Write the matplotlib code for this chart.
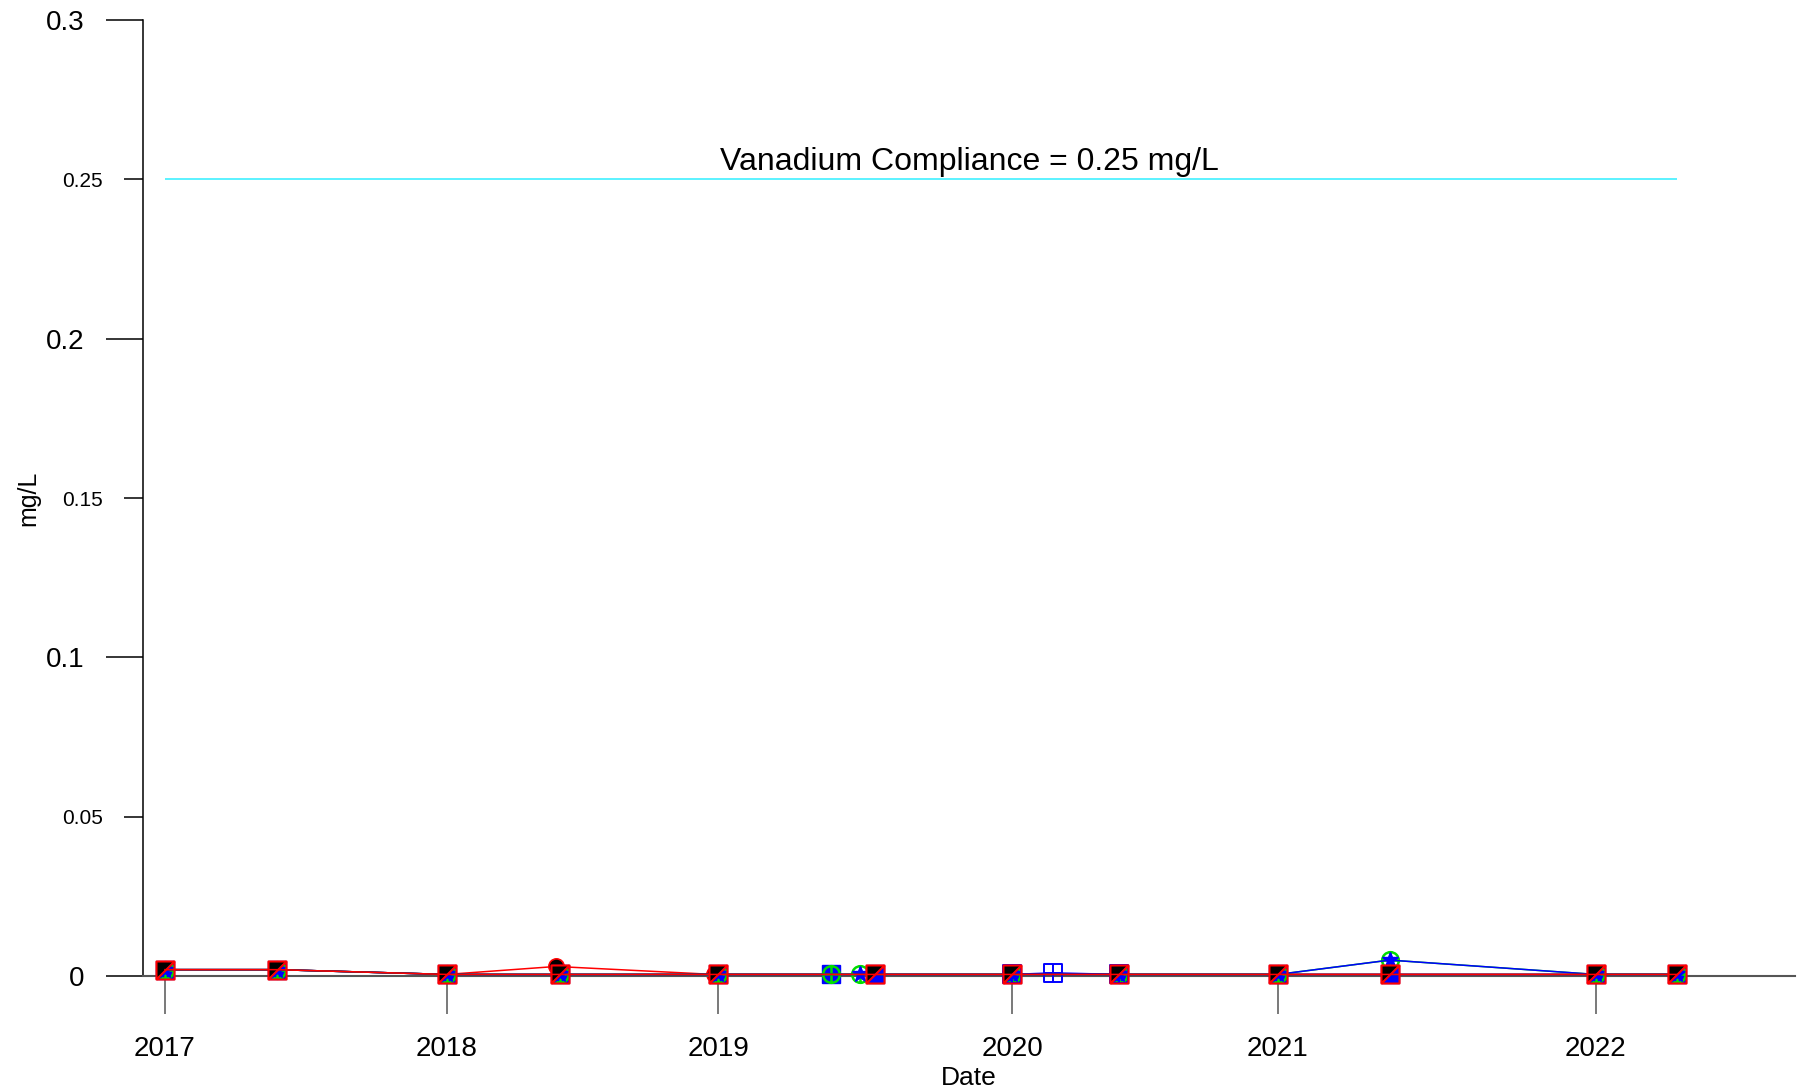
"""
Vanadium concentrations vs. compliance level, several monitoring series.
"""

import pandas as pd
import matplotlib
matplotlib.use("Agg")
import matplotlib.pyplot as plt
from matplotlib.path import Path
from matplotlib.ticker import FixedLocator, FixedFormatter
import matplotlib.dates as mdates

plt.rcParams["font.family"] = ["Liberation Sans", "DejaVu Sans"]

# -------------------- Data --------------------
COMPLIANCE = 0.25  # mg/L

a_dates = ["2017-01-11", "2017-06-09", "2018-01-19", "2018-06-18", "2019-01-14",
           "2019-06-12", "2019-08-10", "2020-02-07", "2020-06-28", "2021-01-24",
           "2021-06-21", "2022-03-21", "2022-07-06"]
a_vals = [0.002, 0.002, 0.0005, 0.0005, 0.0005, 0.0005, 0.0005, 0.0005, 0.0005,
          0.0005, 0.0005, 0.0005, 0.0005]

b_dates = ["2017-01-11", "2017-06-09", "2018-01-19", "2018-06-18", "2019-01-14",
           "2019-06-12", "2019-07-20", "2020-02-07", "2020-06-28", "2021-01-24",
           "2021-06-21", "2022-03-21", "2022-07-06"]
b_vals = [0.002, 0.002, 0.0005, 0.0005, 0.0005, 0.0005, 0.0005, 0.0005, 0.0005,
          0.0005, 0.005, 0.0005, 0.0005]

c_dates = ["2017-01-11", "2017-06-09", "2018-01-19", "2018-06-18", "2019-01-14",
           "2019-07-20", "2019-08-10", "2020-02-07", "2020-06-28", "2021-01-24",
           "2021-06-21", "2022-03-21", "2022-07-06"]
c_vals = [0.002, 0.002, 0.0005, 0.0005, 0.0005, 0.0005, 0.0005, 0.0005, 0.0005,
          0.0005, 0.005, 0.0005, 0.0005]

d_dates = ["2020-02-07", "2020-04-01", "2020-06-28"]
d_vals = [0.0005, 0.001, 0.0005]

e_dates = ["2017-01-11", "2017-06-09", "2018-01-19", "2018-06-18", "2019-01-14",
           "2019-08-10", "2020-02-07", "2020-06-28", "2021-01-24", "2021-06-21",
           "2022-03-21", "2022-07-06"]
e_vals = [0.002, 0.002, 0.0005, 0.0005, 0.0005, 0.0005, 0.0005, 0.0005, 0.0005,
          0.0005, 0.0005, 0.0005]

f_dates = ["2017-01-11", "2017-06-09", "2018-01-19", "2018-06-13", "2019-01-08",
           "2019-08-10", "2020-02-07", "2020-06-28", "2021-01-24", "2021-06-21",
           "2022-03-21", "2022-07-06"]
f_vals = [0.002, 0.002, 0.0005, 0.003, 0.0005, 0.0005, 0.0005, 0.0005, 0.0005,
          0.0005, 0.0005, 0.0005]

g_dates = e_dates
g_vals = [0.002, 0.002, 0.0005, 0.0005, 0.0005, 0.0005, 0.0005, 0.0005, 0.0005,
          0.0005, 0.0005, 0.0005]

tick_dates = ["2017-01-11", "2018-01-19", "2019-01-14", "2020-02-07",
              "2021-01-24", "2022-03-21"]
tick_labels = ["2017", "2018", "2019", "2020", "2021", "2022"]

y_major = [0, 0.1, 0.2, 0.3]
y_major_labels = ["0", "0.1", "0.2", "0.3"]
y_minor = [0.05, 0.15, 0.25]
y_minor_labels = ["0.05", "0.15", "0.25"]

# -------------------- Marker shapes --------------------
M, L, C = Path.MOVETO, Path.LINETO, Path.CLOSEPOLY
tri_ul = Path([(-1, -1), (-1, 1), (1, 1), (-1, -1)], [M, L, L, C])
sq_diag = Path([(-1, -1), (1, -1), (1, 1), (-1, 1), (-1, -1), (-1, -1), (1, 1)],
               [M, L, L, L, C, M, L])
sq_grid = Path([(-1, -1), (1, -1), (1, 1), (-1, 1), (-1, -1),
                (0, -1), (0, 1), (-1, 0), (1, 0)],
               [M, L, L, L, C, M, L, M, L])
circ_plus = Path.make_compound_path(
    Path.unit_circle(),
    Path([(0, -1), (0, 1), (-1, 0), (1, 0)], [M, L, M, L]))

# -------------------- Plot --------------------
fig = plt.figure(figsize=(18.02, 10.92), dpi=100)
ax = fig.add_axes([0.0794, 0.1062, 0.9168, 0.8755])

ms = 13
# black circles sit underneath the other markers
ax.plot(pd.to_datetime(f_dates), f_vals, color="red", lw=1.1, marker="o",
        ms=11, mfc="black", mec="red", mew=1.2, zorder=2.5, clip_on=False)
ax.plot(pd.to_datetime(a_dates), a_vals, color="blue", lw=1.1, marker="s",
        ms=ms, mfc="blue", mec="blue", zorder=3, clip_on=False)
ax.plot(pd.to_datetime(b_dates), b_vals, color="#00cc00", lw=1.1, marker=circ_plus,
        ms=ms - 1, mfc="none", mec="#00dd00", mew=1.8, zorder=4, clip_on=False)
ax.plot(pd.to_datetime(c_dates), c_vals, color="blue", lw=1.1, marker="*",
        ms=ms - 1, mfc="blue", mec="blue", zorder=5, clip_on=False)
ax.plot(pd.to_datetime(d_dates), d_vals, color="blue", lw=1.1, marker=sq_grid,
        ms=ms, mfc="none", mec="blue", mew=1.4, zorder=5, clip_on=False)
ax.plot(pd.to_datetime(e_dates), e_vals, color="#333333", lw=1.1, marker=tri_ul,
        ms=ms - 1, mfc="black", mec="black", mew=0, zorder=6, clip_on=False)
ax.plot(pd.to_datetime(g_dates), g_vals, color="red", lw=1.1, marker=sq_diag,
        ms=ms, mfc="none", mec="red", mew=1.5, zorder=7, clip_on=False)

# compliance line across the sampling period
all_dates = pd.to_datetime(a_dates + b_dates + f_dates)
ax.hlines(COMPLIANCE, all_dates.min(), all_dates.max(), color="#40f0ff", lw=1.2)
ax.annotate("Vanadium Compliance = 0.25 mg/L", xy=(0.5, COMPLIANCE),
            xycoords=("axes fraction", "data"), xytext=(0, 7),
            textcoords="offset points", ha="center", va="baseline", fontsize=23)

# -------------------- Axes --------------------
ax.set_xlim(pd.Timestamp("2016-12-13"), pd.Timestamp("2022-12-10"))
ax.set_ylim(0, 0.3)

ax.xaxis.set_major_locator(FixedLocator(mdates.date2num(pd.to_datetime(tick_dates))))
ax.xaxis.set_major_formatter(FixedFormatter(tick_labels))
ax.yaxis.set_major_locator(FixedLocator(y_major))
ax.yaxis.set_major_formatter(FixedFormatter(y_major_labels))
ax.yaxis.set_minor_locator(FixedLocator(y_minor))
ax.yaxis.set_minor_formatter(FixedFormatter(y_minor_labels))

narrow = ["Liberation Sans Narrow", "Liberation Sans"]
ax.tick_params(axis="x", length=27, width=1.1, color="#555555", pad=16)
for lab in ax.get_xticklabels():
    lab.set_family(narrow)
    lab.set_fontsize(20)
ax.tick_params(axis="y", which="major", length=27, width=1.1, pad=15, labelsize=20)
ax.tick_params(axis="y", which="minor", length=13.7, width=1.1, pad=15, labelsize=15)

for side in ["top", "right"]:
    ax.spines[side].set_visible(False)
ax.spines["bottom"].set_color("#555555")
ax.spines["bottom"].set_linewidth(1.5)
ax.spines["left"].set_linewidth(1.1)

ax.set_xlabel("Date", fontsize=19, family=narrow, labelpad=3)
ax.set_ylabel("mg/L", fontsize=18)
ax.yaxis.set_label_coords(-0.0623, 0.5)

plt.savefig("out.png", dpi=100)
